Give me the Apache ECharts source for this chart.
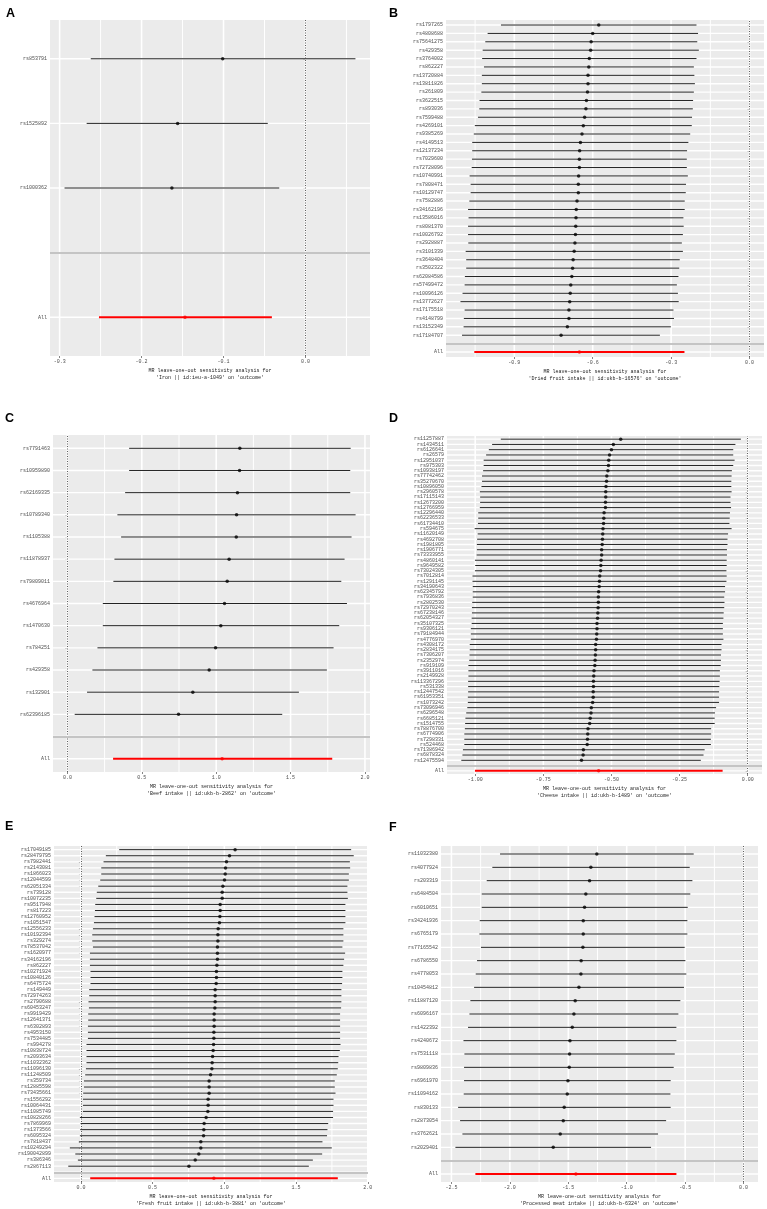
<!DOCTYPE html>
<html>
<head>
<meta charset="utf-8">
<script src="https://cdn.jsdelivr.net/npm/echarts@6/dist/echarts.min.js"></script>
<style>
  html, body { margin: 0; background: #fff; }
  #main { width: 767px; height: 1209px; }
</style>
</head>
<body>
<div id="main"></div>
<script>
// A: Iron
const snpA = ['rs853791', 'rs1525892', 'rs1000362'];
const betaA = [-0.101, -0.156, -0.163];
const lowA = [-0.262, -0.267, -0.294];
const upA = [0.061, -0.046, -0.032];
const allA = [-0.252, -0.147, -0.041]; // low, beta, up
const ticksA = [-0.3, -0.2, -0.1, 0.0];

// B: Dried fruit intake
const snpB = ['rs1797265', 'rs4808688', 'rs75641275', 'rs429358', 'rs3764002', 'rs862227', 'rs13720884', 'rs13811826', 'rs261809', 'rs3622515', 'rs893036', 'rs7599488', 'rs4269101', 'rs9385269', 'rs4149513', 'rs12137234', 'rs7029600', 'rs72728096', 'rs10740991', 'rs7808471', 'rs10129747', 'rs7582886', 'rs34162196', 'rs13586016', 'rs8081370', 'rs10026792', 'rs2928887', 'rs3101339', 'rs3648404', 'rs3502322', 'rs62084586', 'rs57499472', 'rs10096126', 'rs13772627', 'rs17175518', 'rs4148799', 'rs13152349', 'rs17184707'];
const betaB = [-0.577, -0.600, -0.606, -0.608, -0.613, -0.615, -0.618, -0.618, -0.620, -0.624, -0.626, -0.631, -0.636, -0.641, -0.647, -0.650, -0.651, -0.651, -0.654, -0.655, -0.655, -0.660, -0.663, -0.664, -0.665, -0.666, -0.668, -0.671, -0.675, -0.677, -0.680, -0.684, -0.686, -0.688, -0.691, -0.691, -0.697, -0.721];
const lowB = [-0.951, -1.002, -1.011, -1.021, -1.023, -1.016, -1.024, -1.024, -1.026, -1.033, -1.034, -1.039, -1.051, -1.055, -1.061, -1.061, -1.062, -1.063, -1.071, -1.067, -1.067, -1.072, -1.077, -1.075, -1.077, -1.077, -1.076, -1.086, -1.084, -1.084, -1.089, -1.090, -1.098, -1.106, -1.090, -1.093, -1.094, -1.100];
const upB = [-0.203, -0.197, -0.200, -0.194, -0.203, -0.213, -0.211, -0.209, -0.213, -0.216, -0.217, -0.220, -0.221, -0.227, -0.234, -0.239, -0.240, -0.240, -0.236, -0.243, -0.244, -0.248, -0.248, -0.253, -0.252, -0.255, -0.259, -0.255, -0.267, -0.269, -0.272, -0.278, -0.274, -0.271, -0.291, -0.289, -0.301, -0.343];
const allB = [-1.053, -0.651, -0.249];
const ticksB = [-0.9, -0.6, -0.3, 0.0];

// C: Beef intake
const snpC = ['rs7791463', 'rs10959890', 'rs62169335', 'rs10789340', 'rs1105388', 'rs11878937', 'rs79809011', 'rs4676964', 'rs1470630', 'rs784251', 'rs429358', 'rs132901', 'rs62396185'];
const betaC = [1.159, 1.157, 1.143, 1.137, 1.135, 1.087, 1.074, 1.056, 1.031, 0.996, 0.953, 0.843, 0.747];
const lowC = [0.415, 0.415, 0.388, 0.336, 0.361, 0.316, 0.309, 0.238, 0.238, 0.202, 0.168, 0.132, 0.049];
const upC = [1.904, 1.901, 1.901, 1.937, 1.910, 1.863, 1.841, 1.879, 1.827, 1.789, 1.744, 1.556, 1.444];
const allC = [0.307, 1.040, 1.780];
const ticksC = [0.0, 0.5, 1.0, 1.5, 2.0];

// D: Cheese intake
const snpD = ['rs11257887', 'rs1434511', 'rs6126641', 'rs26579', 'rs12951037', 'rs975303', 'rs10938197', 'rs77742462', 'rs35270670', 'rs10896050', 'rs2960578', 'rs17115143', 'rs12673200', 'rs12766959', 'rs12296440', 'rs62236533', 'rs61734410', 'rs594675', 'rs11620149', 'rs4692708', 'rs1981805', 'rs1906771', 'rs73333955', 'rs4860141', 'rs9649582', 'rs73024305', 'rs7012814', 'rs1291145', 'rs34190643', 'rs62345792', 'rs7936836', 'rs2802530', 'rs72970243', 'rs67238146', 'rs62054327', 'rs35107325', 'rs9306121', 'rs79184944', 'rs4776970', 'rs4308172', 'rs2834175', 'rs7306207', 'rs2352974', 'rs919109', 'rs3911016', 'rs2149928', 'rs113367296', 'rs531338', 'rs12447542', 'rs61953351', 'rs1073242', 'rs73096946', 'rs6296548', 'rs6685121', 'rs1514755', 'rs78876700', 'rs6774906', 'rs7298331', 'rs524468', 'rs71386942', 'rs6878324', 'rs12475594'];
const betaD = [-0.466, -0.493, -0.500, -0.507, -0.510, -0.511, -0.513, -0.517, -0.518, -0.520, -0.521, -0.521, -0.522, -0.522, -0.527, -0.528, -0.529, -0.531, -0.532, -0.533, -0.534, -0.536, -0.536, -0.538, -0.539, -0.540, -0.543, -0.544, -0.545, -0.547, -0.548, -0.548, -0.549, -0.550, -0.551, -0.553, -0.553, -0.554, -0.555, -0.558, -0.558, -0.559, -0.560, -0.561, -0.564, -0.565, -0.566, -0.566, -0.567, -0.567, -0.569, -0.574, -0.575, -0.578, -0.580, -0.586, -0.587, -0.588, -0.589, -0.603, -0.604, -0.610];
const lowD = [-0.906, -0.938, -0.950, -0.960, -0.969, -0.969, -0.971, -0.975, -0.975, -0.977, -0.983, -0.982, -0.982, -0.983, -0.989, -0.989, -0.990, -1.002, -0.991, -0.993, -0.994, -0.994, -0.995, -1.001, -1.000, -1.001, -1.010, -1.010, -1.009, -1.009, -1.009, -1.011, -1.012, -1.012, -1.013, -1.013, -1.016, -1.016, -1.016, -1.020, -1.020, -1.021, -1.022, -1.025, -1.025, -1.025, -1.026, -1.026, -1.026, -1.027, -1.027, -1.029, -1.033, -1.036, -1.037, -1.038, -1.040, -1.040, -1.040, -1.045, -1.047, -1.051];
const upD = [-0.025, -0.045, -0.053, -0.053, -0.048, -0.053, -0.058, -0.059, -0.060, -0.060, -0.059, -0.063, -0.063, -0.061, -0.065, -0.066, -0.067, -0.059, -0.072, -0.074, -0.074, -0.076, -0.076, -0.077, -0.077, -0.078, -0.077, -0.078, -0.083, -0.083, -0.086, -0.085, -0.086, -0.088, -0.089, -0.091, -0.091, -0.091, -0.089, -0.096, -0.096, -0.098, -0.098, -0.099, -0.102, -0.102, -0.103, -0.104, -0.105, -0.105, -0.105, -0.116, -0.120, -0.121, -0.121, -0.134, -0.134, -0.135, -0.135, -0.158, -0.162, -0.172];
const allD = [-1.001, -0.547, -0.092];
const ticksD = [-1.0, -0.75, -0.5, -0.25, 0.0];

// E: Fresh fruit intake
const snpE = ['rs17049185', 'rs28479795', 'rs7982441', 'rs2143081', 'rs1866023', 'rs12044599', 'rs62051334', 'rs739128', 'rs10072235', 'rs9517948', 'rs817223', 'rs12760952', 'rs1051547', 'rs12556233', 'rs10192394', 'rs329274', 'rs78537042', 'rs1620977', 'rs34162196', 'rs862227', 'rs10271924', 'rs10840126', 'rs6475724', 'rs149449', 'rs72974263', 'rs2790688', 'rs60453247', 'rs9919429', 'rs12641371', 'rs6302893', 'rs4953150', 'rs7534485', 'rs994278', 'rs10838724', 'rs2093634', 'rs11032362', 'rs11096130', 'rs11248509', 'rs359734', 'rs12885598', 'rs73435661', 'rs1556292', 'rs10064431', 'rs11085749', 'rs10828266', 'rs7869969', 'rs1373566', 'rs6095324', 'rs7818437', 'rs10249294', 'rs190042899', 'rs386346', 'rs2867113'];
const betaE = [1.075, 1.036, 1.015, 1.008, 1.006, 1.001, 0.990, 0.985, 0.985, 0.971, 0.971, 0.969, 0.966, 0.957, 0.955, 0.955, 0.952, 0.952, 0.952, 0.948, 0.945, 0.945, 0.943, 0.936, 0.936, 0.936, 0.934, 0.929, 0.929, 0.929, 0.927, 0.927, 0.925, 0.922, 0.918, 0.915, 0.913, 0.904, 0.894, 0.894, 0.894, 0.887, 0.887, 0.885, 0.873, 0.859, 0.857, 0.855, 0.836, 0.836, 0.822, 0.797, 0.753];
const lowE = [0.267, 0.174, 0.158, 0.142, 0.142, 0.135, 0.121, 0.111, 0.107, 0.100, 0.098, 0.095, 0.091, 0.084, 0.079, 0.079, 0.084, 0.063, 0.063, 0.063, 0.067, 0.067, 0.067, 0.058, 0.058, 0.053, 0.056, 0.051, 0.051, 0.049, 0.049, 0.049, 0.039, 0.039, 0.039, 0.039, 0.035, 0.030, 0.021, 0.021, 0.016, 0.014, 0.014, 0.014, -0.007, -0.002, -0.005, -0.007, -0.014, -0.077, -0.039, -0.021, -0.088];
const upE = [1.884, 1.902, 1.875, 1.877, 1.868, 1.868, 1.858, 1.858, 1.861, 1.844, 1.844, 1.844, 1.844, 1.830, 1.830, 1.830, 1.823, 1.842, 1.835, 1.830, 1.823, 1.823, 1.821, 1.816, 1.816, 1.816, 1.814, 1.807, 1.807, 1.807, 1.807, 1.807, 1.810, 1.805, 1.796, 1.794, 1.791, 1.784, 1.770, 1.770, 1.775, 1.761, 1.761, 1.758, 1.758, 1.724, 1.719, 1.716, 1.684, 1.749, 1.682, 1.617, 1.589];
const allE = [0.065, 0.927, 1.791];
const ticksE = [0.0, 0.5, 1.0, 1.5, 2.0];

// F: Processed meat intake
const snpF = ['rs11032380', 'rs4077924', 'rs203319', 'rs6484504', 'rs6010651', 'rs34241936', 'rs6765179', 'rs77165542', 'rs6786550', 'rs4778053', 'rs10454812', 'rs11887120', 'rs6096167', 'rs1422392', 'rs4240672', 'rs7531118', 'rs9809836', 'rs6961970', 'rs11094162', 'rs830133', 'rs2873054', 'rs3762621', 'rs2029401'];
const betaF = [-1.256, -1.307, -1.318, -1.350, -1.361, -1.372, -1.372, -1.375, -1.390, -1.392, -1.409, -1.441, -1.452, -1.466, -1.486, -1.489, -1.492, -1.503, -1.509, -1.535, -1.543, -1.569, -1.629];
const lowF = [-2.084, -2.150, -2.198, -2.241, -2.241, -2.258, -2.261, -2.247, -2.281, -2.292, -2.306, -2.338, -2.346, -2.358, -2.397, -2.389, -2.392, -2.392, -2.395, -2.443, -2.426, -2.406, -2.466];
const upF = [-0.427, -0.461, -0.438, -0.456, -0.478, -0.481, -0.481, -0.504, -0.498, -0.490, -0.510, -0.541, -0.558, -0.575, -0.575, -0.589, -0.598, -0.624, -0.626, -0.624, -0.663, -0.732, -0.792];
const allF = [-2.295, -1.435, -0.575];
const ticksF = [-2.5, -2.0, -1.5, -1.0, -0.5, 0.0];

const panels = [
  { tag: 'A', exp: 'Iron || id:ieu-a-1049', snp: snpA, b: betaA, lo: lowA, up: upA, all: allA, ticks: ticksA, digits: 1, box: [50, 20, 320, 336], tagPos: [6, 7] },
  { tag: 'B', exp: 'Dried fruit intake || id:ukb-b-16576', snp: snpB, b: betaB, lo: lowB, up: upB, all: allB, ticks: ticksB, digits: 1, box: [446, 20, 318, 337], tagPos: [389, 7] },
  { tag: 'C', exp: 'Beef intake || id:ukb-b-2862', snp: snpC, b: betaC, lo: lowC, up: upC, all: allC, ticks: ticksC, digits: 1, box: [53, 435, 317, 337], tagPos: [5, 412] },
  { tag: 'D', exp: 'Cheese intake || id:ukb-b-1489', snp: snpD, b: betaD, lo: lowD, up: upD, all: allD, ticks: ticksD, digits: 2, box: [447, 436, 315, 338], tagPos: [389, 412] },
  { tag: 'E', exp: 'Fresh fruit intake || id:ukb-b-3881', snp: snpE, b: betaE, lo: lowE, up: upE, all: allE, ticks: ticksE, digits: 1, box: [54, 846, 314, 336], tagPos: [5, 820] },
  { tag: 'F', exp: 'Processed meat intake || id:ukb-b-6324', snp: snpF, b: betaF, lo: lowF, up: upF, all: allF, ticks: ticksF, digits: 1, box: [441, 846, 317, 336], tagPos: [389, 821] }
];

const FONT = '"Liberation Mono", "DejaVu Sans Mono", monospace';

// segment [pos, from, to, width]; horizontal when flip is false, vertical when true
function seg(flip) {
  return function (params, api) {
    const p = api.value(0), f = api.value(1), t = api.value(2), w = api.value(3);
    const a = api.coord(flip ? [p, f] : [f, p]);
    const b = api.coord(flip ? [p, t] : [t, p]);
    return {
      type: 'line',
      shape: { x1: a[0], y1: a[1], x2: b[0], y2: b[1] },
      style: { stroke: api.visual('color'), lineWidth: w }
    };
  };
}

const grids = [], xAxes = [], yAxes = [], series = [], titles = [];

panels.forEach((p, i) => {
  const n = p.snp.length;
  const xs = p.lo.concat(p.up, p.all, [0]);
  const lo = Math.min(...xs), hi = Math.max(...xs);
  const pad = (hi - lo) * 0.05;
  const xmin = lo - pad, xmax = hi + pad;
  const ymin = 0.4, ymax = n + 2.6;
  const step = p.ticks[1] - p.ticks[0];
  const yTicks = [];
  for (let k = 1; k <= n + 2; k++) yTicks.push(k);

  // white panel grid (ggplot theme_grey): minor + major verticals, one line per row
  const vLines = [];
  for (let v = p.ticks[0] - step * 1.5; v <= xmax; v += step) {
    if (v >= xmin) vLines.push([+v.toFixed(4), ymin, ymax, 1]);
  }
  p.ticks.forEach(v => vLines.push([v, ymin, ymax, 1.6]));
  const hLines = yTicks.map(v => [v, xmin, xmax, 1.4]);

  grids.push({
    left: p.box[0], top: p.box[1], width: p.box[2], height: p.box[3],
    show: true, backgroundColor: '#EBEBEB', borderWidth: 0, outerBoundsMode: 'none'
  });

  xAxes.push({
    gridIndex: i, type: 'value', min: xmin, max: xmax, position: 'bottom',
    axisLine: { show: false },
    axisTick: { show: true, length: 2, customValues: p.ticks, lineStyle: { color: '#333', width: 0.6 } },
    axisLabel: { customValues: p.ticks, formatter: v => v.toFixed(p.digits), fontSize: 5, color: '#4D4D4D', margin: 3, fontFamily: FONT },
    splitLine: { show: false },
    name: 'MR leave-one-out sensitivity analysis for\n\'' + p.exp + '\' on \'outcome\'',
    nameLocation: 'middle', nameGap: 11,
    nameTextStyle: { fontSize: 5, lineHeight: 7, color: '#222', fontFamily: FONT }
  });

  yAxes.push({
    gridIndex: i, type: 'value', min: ymin, max: ymax,
    axisLine: { show: false },
    axisTick: { show: true, length: 2, customValues: yTicks, lineStyle: { color: '#333', width: 0.6 } },
    axisLabel: {
      customValues: yTicks, fontSize: 5, color: '#4D4D4D', margin: 3, fontFamily: FONT,
      formatter: v => (v === 1 ? 'All' : v === 2 ? '' : p.snp[n + 2 - v])
    },
    splitLine: { show: false }
  });

  series.push({
    type: 'custom', xAxisIndex: i, yAxisIndex: i, silent: true, z: 1,
    renderItem: seg(true), itemStyle: { color: '#FFFFFF' },
    encode: { x: 0, y: [1, 2] },
    data: vLines
  });
  series.push({
    type: 'custom', xAxisIndex: i, yAxisIndex: i, silent: true, z: 1,
    renderItem: seg(false), itemStyle: { color: '#FFFFFF' },
    encode: { x: [1, 2], y: 0 },
    data: hLines
  });
  series.push({
    type: 'custom', xAxisIndex: i, yAxisIndex: i, silent: true, z: 2,
    renderItem: seg(false), itemStyle: { color: '#222' },
    encode: { x: [1, 2], y: 0 },
    data: p.snp.map((s, k) => [n + 2 - k, p.lo[k], p.up[k], 1])
  });
  series.push({
    type: 'scatter', xAxisIndex: i, yAxisIndex: i, silent: true, z: 3,
    symbolSize: 3.5, itemStyle: { color: '#000' },
    data: p.b.map((b, k) => [b, n + 2 - k]),
    markLine: {
      silent: true, symbol: 'none', label: { show: false }, animation: false,
      data: [
        { xAxis: 0, lineStyle: { color: '#333', width: 0.8, type: [1, 1.5] } },
        { yAxis: 2, lineStyle: { color: '#C4C4C4', width: 2, type: 'solid' } }
      ]
    }
  });
  series.push({
    type: 'custom', xAxisIndex: i, yAxisIndex: i, silent: true, z: 4,
    renderItem: seg(false), itemStyle: { color: '#FF0000' },
    encode: { x: [1, 2], y: 0 },
    data: [[1, p.all[0], p.all[2], 2]]
  });
  series.push({
    type: 'scatter', xAxisIndex: i, yAxisIndex: i, silent: true, z: 5,
    symbolSize: 3.5, itemStyle: { color: '#FF0000' },
    data: [[p.all[1], 1]]
  });

  titles.push({
    text: p.tag, left: p.tagPos[0], top: p.tagPos[1], padding: 0,
    textStyle: { fontSize: 12.5, fontWeight: 'bold', color: '#000', fontFamily: 'Liberation Sans' }
  });
});

const myChart = echarts.init(document.getElementById('main'));
myChart.setOption({
  animation: false,
  backgroundColor: '#fff',
  title: titles,
  grid: grids,
  xAxis: xAxes,
  yAxis: yAxes,
  series: series
});
</script>
</body>
</html>
